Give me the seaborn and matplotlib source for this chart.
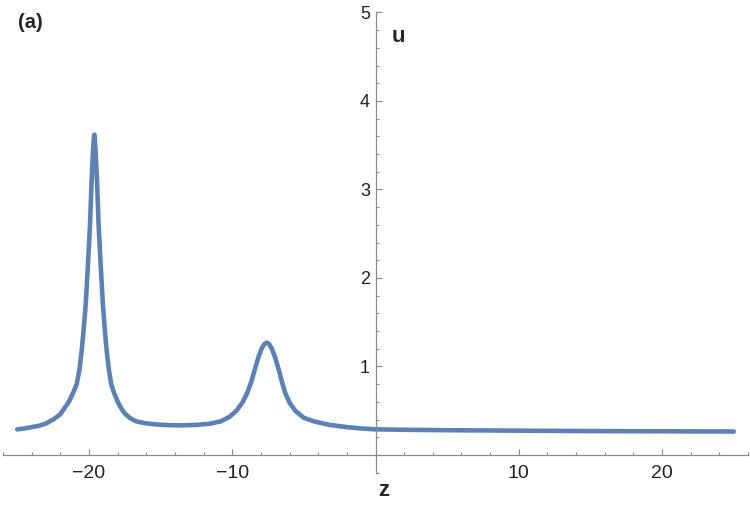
import numpy as np
import matplotlib
matplotlib.use('Agg')
import matplotlib.pyplot as plt
import seaborn as sns

# values
z_vals = [-25.0, -24.5, -24.0, -23.5, -23.0, -22.5, -22.0, -21.7, -21.4, -21.1,
          -20.85, -20.66, -20.52, -20.37, -20.22, -20.08, -19.92, -19.82, -19.72, -19.66,
          -19.62, -19.58, -19.52, -19.42, -19.32, -19.16, -19.02, -18.88, -18.74, -18.6,
          -18.44, -18.24, -17.98, -17.75, -17.5, -17.15, -16.7, -16.1, -15.3, -14.5,
          -13.6, -12.5, -11.5, -10.8, -10.2, -9.7, -9.3, -8.95, -8.64, -8.4,
          -8.18, -7.95, -7.75, -7.59, -7.43, -7.23, -7.0, -6.78, -6.55, -6.3,
          -5.99, -5.6, -5.0, -4.3, -3.2, -2.0, -1.0, 0.0, 2.0, 5.0,
          10.0, 15.0, 20.0, 25.0]
u_vals = [0.29, 0.30, 0.315, 0.33, 0.355, 0.40, 0.46, 0.53, 0.60, 0.70,
          0.80, 0.96, 1.15, 1.40, 1.70, 2.10, 2.60, 3.05, 3.40, 3.56,
          3.62, 3.56, 3.40, 3.05, 2.60, 2.10, 1.70, 1.40, 1.15, 0.96,
          0.80, 0.70, 0.60, 0.53, 0.47, 0.42, 0.38, 0.36, 0.345, 0.338,
          0.335, 0.34, 0.355, 0.38, 0.43, 0.50, 0.59, 0.70, 0.84, 0.98,
          1.10, 1.20, 1.255, 1.27, 1.255, 1.20, 1.10, 0.98, 0.84, 0.70,
          0.59, 0.50, 0.42, 0.38, 0.34, 0.315, 0.30, 0.29, 0.285, 0.28,
          0.275, 0.27, 0.268, 0.265]

x_major = [-20, -10, 10, 20]
x_minor = [v for v in range(-26, 27, 2) if v not in x_major and v != 0]
y_major = [1, 2, 3, 4, 5]
y_minor = [round(v, 1) for v in np.arange(-0.2, 5.01, 0.2) if abs(v - round(v)) > 0.05]

sns.set_style('white')
plt.rcParams['font.family'] = ['Liberation Sans', 'DejaVu Sans']

fig = plt.figure(figsize=(7.5, 5.15), dpi=100)
ax = fig.add_axes([0, 0, 1, 1])
ax.patch.set_alpha(0)

sns.lineplot(x=z_vals, y=u_vals, ax=ax, color='#5E81B5', linewidth=3.3,
             sort=False, estimator=None)

ax.set_xlim(-26.2, 26.13)
ax.set_ylim(-0.678, 5.141)

# Mathematica style axes crossing at the origin
for side in ['top', 'right']:
    ax.spines[side].set_visible(False)
ax.spines['left'].set_position(('data', 0))
ax.spines['bottom'].set_position(('data', 0))
ax.spines['left'].set_bounds(-0.2, 5)
ax.spines['bottom'].set_bounds(-26, 26)
for side in ['left', 'bottom']:
    ax.spines[side].set_color('#8a8a8a')
    ax.spines[side].set_linewidth(0.9)

ax.set_xticks(x_major)
ax.set_xticks(x_minor, minor=True)
ax.set_yticks(y_major)
ax.set_yticks(y_minor, minor=True)
ax.set_xticklabels(['\u221220', '\u221210', '10', '20'])

ax.tick_params(which='both', bottom=True, left=True, direction='in',
               color='#8a8a8a', width=0.8, labelcolor='#222222')
ax.tick_params(which='major', length=4.5)
ax.tick_params(which='minor', length=2.3)
ax.tick_params(axis='x', pad=7, labelsize=14)
ax.tick_params(axis='y', pad=4, labelsize=13)

ax.set_xlabel('')
ax.set_ylabel('')

fig.text(398 / 750, 1 - 37 / 515, 'u', fontsize=16, fontweight='bold',
         ha='center', va='center')
fig.text(384 / 750, 1 - 491 / 515, 'z', fontsize=16, fontweight='bold',
         ha='center', va='center')
fig.text(30 / 750, 1 - 22 / 515, '(a)', fontsize=14.5, fontweight='bold',
         ha='center', va='center')

fig.savefig('out.png', dpi=100)
